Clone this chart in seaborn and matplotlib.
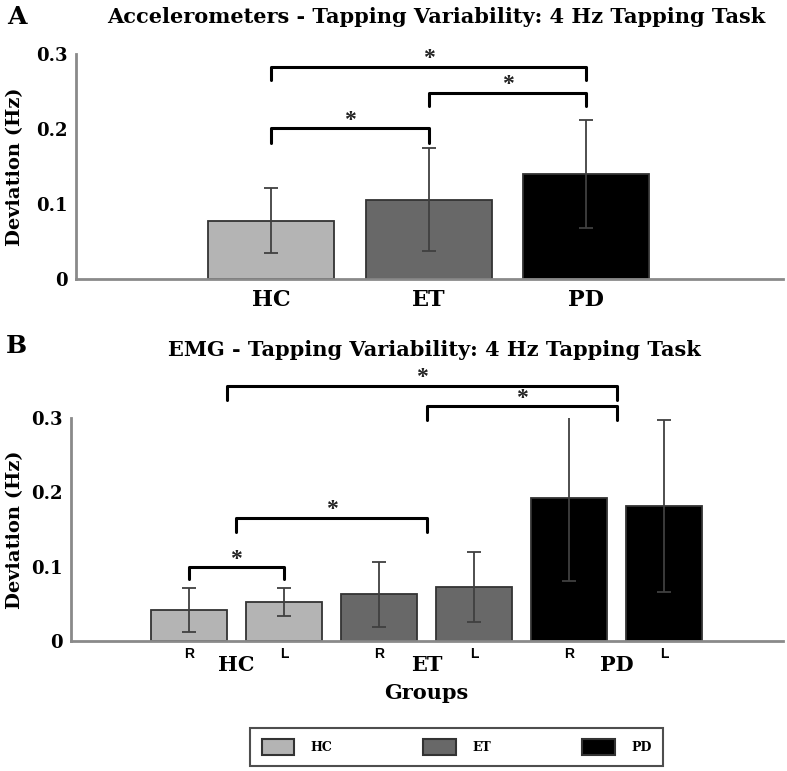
import numpy as np
import pandas as pd
import matplotlib
matplotlib.use("Agg")
import matplotlib.pyplot as plt
import matplotlib.patches as mpatches
import seaborn as sns

# panel A: accelerometers
groups = ["HC", "ET", "PD"]
acc_mean = [0.078, 0.106, 0.140]
acc_err = [0.043, 0.069, 0.072]

# panel B: EMG, right / left hand per group
emg_bars = ["HC R", "HC L", "ET R", "ET L", "PD R", "PD L"]
emg_group = ["HC", "HC", "ET", "ET", "PD", "PD"]
emg_side = ["R", "L", "R", "L", "R", "L"]
emg_mean = [0.042, 0.053, 0.063, 0.073, 0.192, 0.182]
emg_err = [0.030, 0.019, 0.044, 0.047, 0.111, 0.116]

# significance brackets: (left x, right x, height, drop)
acc_sig = [(0, 1, 0.201, 0.020), (1, 2, 0.248, 0.017), (0, 2, 0.283, 0.018)]
emg_sig = [(0, 1, 0.099, 0.016), (0.5, 2.5, 0.166, 0.019),
           (2.5, 4.5, 0.316, 0.019), (0.4, 4.5, 0.344, 0.019)]

colors = {"HC": "#b4b4b4", "ET": "#686868", "PD": "#000000"}

sns.set_style("white")
plt.rcParams['font.family'] = ['DejaVu Serif']
plt.rcParams['font.weight'] = 'bold'
plt.rcParams['text.color'] = 'black'
plt.rcParams['xtick.color'] = 'black'
plt.rcParams['ytick.color'] = 'black'
plt.rcParams['axes.labelcolor'] = 'black'

fig = plt.figure(figsize=(7.87, 7.71), dpi=100)
axA = fig.add_axes([0.0966, 0.638, 0.8984, 0.292])
axB = fig.add_axes([0.0902, 0.1686, 0.9048, 0.289])

dfA = pd.DataFrame({"group": groups, "dev": acc_mean})
dfB = pd.DataFrame({"bar": emg_bars, "group": emg_group, "dev": emg_mean})

sns.barplot(data=dfA, x="group", y="dev", hue="group", palette=colors,
            dodge=False, legend=False, width=0.8, edgecolor="#333333",
            linewidth=1.3, errorbar=None, ax=axA)
sns.barplot(data=dfB, x="bar", y="dev", hue="group", palette=colors,
            dodge=False, legend=False, width=0.8, edgecolor="#333333",
            linewidth=1.3, errorbar=None, ax=axB)

axA.errorbar(range(len(groups)), acc_mean, yerr=acc_err, fmt="none",
             ecolor="#404040", elinewidth=1.3, capsize=5, capthick=1.3)
axB.errorbar(range(len(emg_bars)), emg_mean, yerr=emg_err, fmt="none",
             ecolor="#404040", elinewidth=1.3, capsize=5, capthick=1.3)


def bracket(ax, x1, x2, h, d):
    ax.plot([x1, x1, x2, x2], [h - d, h, h, h - d], color="black", lw=2.2,
            clip_on=False, solid_joinstyle="round")
    ax.text((x1 + x2) / 2, h - 0.003, "*", ha="center", va="bottom",
            fontsize=17, family="Liberation Serif", color="#222222",
            clip_on=False)


for s in acc_sig:
    bracket(axA, *s)
for s in emg_sig:
    bracket(axB, *s)

for ax in (axA, axB):
    ax.set_ylim(0, 0.3)
    ax.set_yticks([0, 0.1, 0.2, 0.3])
    ax.set_yticklabels(["0", "0.1", "0.2", "0.3"], fontsize=13, fontweight="bold")
    ax.tick_params(length=0, pad=6)
    sns.despine(ax=ax)
    for sp in ("left", "bottom"):
        ax.spines[sp].set_color("#8a8a8a")
        ax.spines[sp].set_linewidth(2)
    ax.set_ylabel("Deviation (Hz)", fontsize=14, fontweight="bold")
    ax.set_xlabel("")

axA.set_xlim(-1.24, 3.25)
axA.set_xticks(range(len(groups)))
axA.set_xticklabels(groups, fontsize=16, fontweight="bold")
axA.tick_params(axis="x", pad=7)
axA.yaxis.set_label_coords(-0.073, 0.5)

axB.set_xlim(-1.24, 6.25)
axB.set_xticks(range(len(emg_bars)))
axB.set_xticklabels(emg_side, fontsize=10, fontweight="bold",
                    family=["Liberation Sans", "DejaVu Sans"])
axB.tick_params(axis="x", pad=4)
axB.yaxis.set_label_coords(-0.066, 0.5)
for i, g in enumerate(groups):
    axB.text(2 * i + 0.5, -0.108, g, transform=axB.get_xaxis_transform(),
             ha="center", va="center", fontsize=15, fontweight="bold")
axB.text(2.5, -0.233, "Groups", transform=axB.get_xaxis_transform(),
         ha="center", va="center", fontsize=15, fontweight="bold")

fig.text(0.554, 0.978, "Accelerometers - Tapping Variability: 4 Hz Tapping Task",
         ha="center", va="center", fontsize=15, fontweight="bold")
fig.text(0.552, 0.546, "EMG - Tapping Variability: 4 Hz Tapping Task",
         ha="center", va="center", fontsize=15, fontweight="bold")
fig.text(0.021, 0.978, "A", ha="center", va="center", fontsize=18, fontweight="bold")
fig.text(0.021, 0.551, "B", ha="center", va="center", fontsize=18, fontweight="bold")

handles = [mpatches.Patch(facecolor=colors[g], edgecolor="#333333", lw=1.5, label=g)
           for g in groups]
leg = fig.legend(handles=handles, loc="center", bbox_to_anchor=(0.58, 0.031),
                 ncol=3, frameon=True, fancybox=False, edgecolor="#222222",
                 prop={"size": 9, "weight": "bold"}, handlelength=2.6,
                 handleheight=1.6, columnspacing=7.3, borderpad=0.9,
                 handletextpad=1.3)
leg.get_frame().set_linewidth(1.5)

fig.savefig("out.png", dpi=100)
